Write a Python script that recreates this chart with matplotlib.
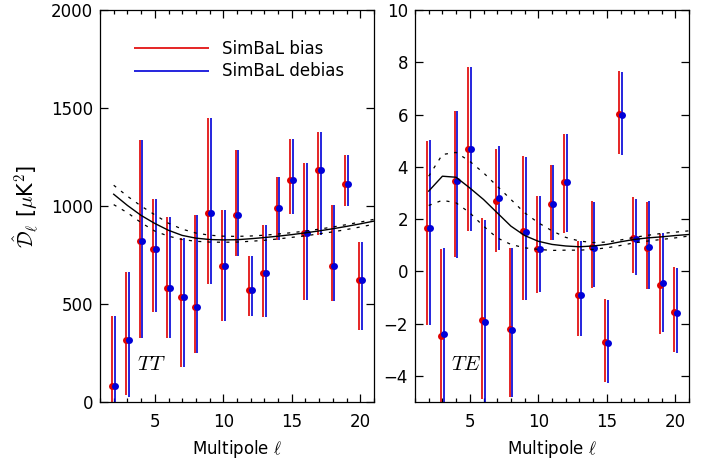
import matplotlib
matplotlib.use("Agg")
import matplotlib.pyplot as plt
import numpy as np

plt.rcParams['mathtext.fontset'] = 'cm'
plt.rcParams['font.family'] = 'DejaVu Sans'

# multipoles
ell = np.arange(2, 21)

# TT spectrum (muK^2)
tt_red = [82, 314, 823, 781, 584, 536, 486, 966, 695, 956, 572, 660, 991, 1131, 860, 1183, 695, 1111, 621]
tt_blue = [82, 314, 823, 781, 584, 536, 486, 966, 695, 956, 572, 660, 991, 1131, 860, 1183, 695, 1111, 621]
tt_red_lo = [-270, 36, 326, 459, 326, 177, 249, 604, 411, 744, 437, 433, 828, 957, 519, 850, 517, 1000, 365]
tt_red_hi = [437, 662, 1338, 1038, 945, 838, 954, 1447, 981, 1287, 747, 904, 1148, 1340, 1218, 1380, 1007, 1258, 816]
tt_blue_lo = [-270, 27, 326, 459, 326, 177, 249, 604, 411, 744, 437, 433, 828, 957, 519, 850, 517, 1000, 365]
tt_blue_hi = [437, 662, 1338, 1038, 945, 838, 954, 1447, 981, 1287, 747, 904, 1148, 1340, 1218, 1380, 1007, 1258, 816]

# TE spectrum
te_red = [1.64, -2.49, 3.47, 4.68, -1.87, 2.71, -2.21, 1.54, 0.87, 2.56, 3.41, -0.92, 0.92, -2.70, 6.02, 1.28, 0.90, -0.53, -1.55]
te_blue = [1.67, -2.40, 3.45, 4.69, -1.95, 2.81, -2.24, 1.51, 0.85, 2.58, 3.42, -0.92, 0.90, -2.76, 5.97, 1.22, 0.93, -0.46, -1.59]
te_red_lo = [-2.05, -6.0, 0.55, 1.54, -4.9, 0.75, -4.8, -1.09, -0.81, 1.2, 1.48, -2.49, -0.62, -4.22, 4.49, -0.05, -0.69, -2.38, -3.08]
te_red_hi = [5.00, 0.84, 6.15, 7.80, 2.05, 4.69, 0.90, 4.40, 2.88, 4.05, 5.25, 1.16, 2.68, -1.07, 7.67, 2.84, 2.66, 1.41, 0.18]
te_blue_lo = [-2.05, -6.0, 0.52, 1.54, -6.0, 0.83, -4.8, -1.10, -0.80, 1.2, 1.50, -2.47, -0.60, -4.29, 4.44, -0.14, -0.69, -2.32, -3.14]
te_blue_hi = [5.04, 0.90, 6.12, 7.81, 1.98, 4.80, 0.90, 4.38, 2.88, 4.08, 5.25, 1.16, 2.66, -1.10, 7.62, 2.75, 2.68, 1.48, 0.14]

# theory curves, ell = 2..21
ell_th = np.arange(2, 22)
tt_th = [1060, 1003, 952, 911, 876, 850, 836, 829, 827, 828, 833, 839, 846, 854, 863, 873, 884, 896, 909, 923]
tt_th_up = [1106, 1050, 1000, 955, 912, 882, 862, 851, 846, 845, 847, 851, 857, 864, 872, 882, 893, 905, 918, 932]
tt_th_lo = [1007, 966, 915, 872, 846, 829, 820, 816, 815, 816, 820, 825, 832, 840, 848, 858, 868, 880, 893, 907]
te_th = [3.07, 3.64, 3.60, 3.19, 2.75, 2.24, 1.73, 1.37, 1.15, 1.03, 0.97, 0.94, 0.97, 1.03, 1.13, 1.22, 1.28, 1.32, 1.37, 1.41]
te_th_up = [3.64, 4.47, 4.55, 4.21, 3.77, 3.26, 2.75, 2.24, 1.86, 1.55, 1.30, 1.16, 1.10, 1.12, 1.20, 1.30, 1.38, 1.45, 1.50, 1.55]
te_th_lo = [2.52, 2.72, 2.62, 2.24, 1.73, 1.28, 1.03, 0.90, 0.84, 0.80, 0.81, 0.81, 0.84, 0.90, 0.99, 1.09, 1.16, 1.22, 1.28, 1.35]

red = '#e00000'
blue = '#0000d8'
off = 0.1

fig = plt.figure(figsize=(7.11, 4.59), dpi=100)
ax1 = fig.add_axes([100/711, 1-402/459, 274/711, 392/459])
ax2 = fig.add_axes([415/711, 1-402/459, 274/711, 392/459])


def panel(ax, r, b, rlo, rhi, blo, bhi, th, thu, thl):
    ax.vlines(ell - off, rlo, rhi, color=red, lw=1.2, label='SimBaL bias')
    ax.vlines(ell + off, blo, bhi, color=blue, lw=1.2, label='SimBaL debias')
    ax.plot(ell - off, r, 'o', color=red, ms=5, mew=0)
    ax.plot(ell + off, b, 'o', color=blue, ms=5, mew=0)
    ax.plot(ell_th, th, color='black', lw=1)
    ax.plot(ell_th, thu, color='black', lw=0.9, ls=(0, (2.5, 5)))
    ax.plot(ell_th, thl, color='black', lw=0.9, ls=(0, (2.5, 5)))
    ax.set_xlim(1, 21)
    ax.set_xticks([5, 10, 15, 20])
    ax.set_xticks(np.arange(1, 22), minor=True)
    ax.tick_params(which='both', direction='in', top=True, right=True, labelsize=12, width=0.9)
    ax.tick_params(which='major', length=6)
    ax.tick_params(which='minor', length=3)
    ax.tick_params(axis='x', pad=8)
    ax.tick_params(axis='y', pad=5)
    for s in ax.spines.values():
        s.set_linewidth(0.9)
    ax.set_xlabel(r'Multipole $\ell$', fontsize=12, labelpad=5)


panel(ax1, tt_red, tt_blue, tt_red_lo, tt_red_hi, tt_blue_lo, tt_blue_hi, tt_th, tt_th_up, tt_th_lo)
ax1.set_ylim(0, 2000)
ax1.set_yticks([0, 500, 1000, 1500, 2000])
ax1.set_ylabel(r'$\hat{\mathcal{D}}_\ell$ [$\mu$K$^2$]', fontsize=15)
ax1.yaxis.set_label_coords(-0.22, 0.5)
ax1.text(3.7, 194, r'$TT$', fontsize=15, va='center')
ax1.legend(loc='upper left', bbox_to_anchor=(0.1, 0.94), frameon=False, fontsize=12,
           handlelength=4.5, handletextpad=0.8, labelspacing=0.25, borderaxespad=0)

panel(ax2, te_red, te_blue, te_red_lo, te_red_hi, te_blue_lo, te_blue_hi, te_th, te_th_up, te_th_lo)
ax2.set_ylim(-5, 10)
ax2.set_yticks([-4, -2, 0, 2, 4, 6, 8, 10])
ax2.text(3.6, -3.55, r'$TE$', fontsize=15, va='center')

fig.savefig('out.png', dpi=100)
